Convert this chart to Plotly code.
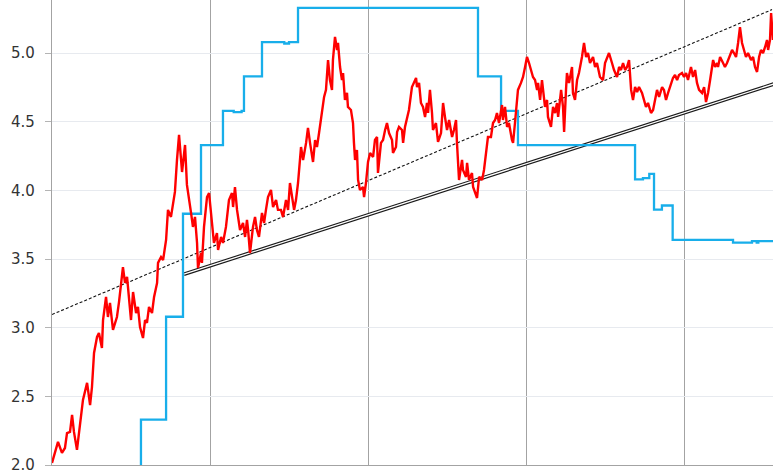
import plotly.graph_objects as go

# Red series (decimal year, value)
red_t = [2022.000, 2022.019, 2022.038, 2022.063, 2022.082, 2022.095, 2022.114, 2022.127, 2022.139, 2022.158,
         2022.171, 2022.190, 2022.196, 2022.222, 2022.241, 2022.253, 2022.266, 2022.285, 2022.297, 2022.316,
         2022.323, 2022.342, 2022.354, 2022.367, 2022.386, 2022.411, 2022.424, 2022.449, 2022.462, 2022.475,
         2022.500, 2022.513, 2022.532, 2022.544, 2022.557, 2022.576, 2022.589, 2022.601, 2022.614, 2022.633,
         2022.646, 2022.665, 2022.671, 2022.690, 2022.703, 2022.722, 2022.734, 2022.753, 2022.766, 2022.778,
         2022.791, 2022.804, 2022.823, 2022.829, 2022.842, 2022.854, 2022.867, 2022.880, 2022.892, 2022.905,
         2022.918, 2022.924, 2022.943, 2022.949, 2022.962, 2022.981, 2022.994,
         2023.013, 2023.025, 2023.044, 2023.051, 2023.070, 2023.082, 2023.101, 2023.120, 2023.139, 2023.146,
         2023.158, 2023.171, 2023.190, 2023.209, 2023.222, 2023.234, 2023.241, 2023.253, 2023.272, 2023.285,
         2023.297, 2023.310, 2023.329, 2023.342, 2023.354, 2023.367, 2023.386, 2023.399, 2023.418, 2023.430,
         2023.449, 2023.462, 2023.481, 2023.494, 2023.506, 2023.519, 2023.532, 2023.544, 2023.557, 2023.576,
         2023.589, 2023.608, 2023.620, 2023.633, 2023.652, 2023.665, 2023.677, 2023.690, 2023.709, 2023.722,
         2023.734, 2023.747, 2023.759, 2023.772, 2023.778, 2023.791, 2023.804, 2023.810, 2023.823, 2023.835,
         2023.842, 2023.854, 2023.867, 2023.873, 2023.892, 2023.905, 2023.911, 2023.918, 2023.930, 2023.937,
         2023.949, 2023.968, 2023.975, 2023.987, 2024.000,
         2024.013, 2024.032, 2024.044, 2024.057, 2024.063, 2024.082, 2024.095, 2024.108, 2024.120, 2024.133,
         2024.152, 2024.158, 2024.177, 2024.184, 2024.196, 2024.215, 2024.222, 2024.234, 2024.247, 2024.259,
         2024.278, 2024.291, 2024.304, 2024.310, 2024.323, 2024.335, 2024.348, 2024.361, 2024.373, 2024.380,
         2024.392, 2024.405, 2024.411, 2024.430, 2024.443, 2024.462, 2024.475, 2024.487, 2024.500, 2024.513,
         2024.532, 2024.544, 2024.557, 2024.563, 2024.576, 2024.595, 2024.601, 2024.620, 2024.627, 2024.639,
         2024.658, 2024.665, 2024.677, 2024.690, 2024.703, 2024.722, 2024.734, 2024.747, 2024.759, 2024.778,
         2024.791, 2024.804, 2024.816, 2024.829, 2024.848, 2024.854, 2024.867, 2024.880, 2024.892, 2024.911,
         2024.918, 2024.930, 2024.943, 2024.949, 2024.968, 2024.981, 2024.994,
         2025.006, 2025.019, 2025.032, 2025.044, 2025.057, 2025.070, 2025.076, 2025.089, 2025.101, 2025.108,
         2025.120, 2025.133, 2025.139, 2025.158, 2025.171, 2025.184, 2025.196, 2025.203, 2025.222, 2025.234,
         2025.241, 2025.253, 2025.259, 2025.272, 2025.291, 2025.297, 2025.310, 2025.323, 2025.335, 2025.354,
         2025.367, 2025.380, 2025.392, 2025.405, 2025.424, 2025.437, 2025.449, 2025.468, 2025.487, 2025.500,
         2025.513, 2025.525, 2025.544, 2025.557, 2025.576, 2025.589, 2025.601, 2025.614, 2025.627, 2025.639,
         2025.652, 2025.665, 2025.677, 2025.690, 2025.703, 2025.715, 2025.734, 2025.747, 2025.759, 2025.772,
         2025.791, 2025.804, 2025.816, 2025.829, 2025.842, 2025.861, 2025.873, 2025.886, 2025.899, 2025.918,
         2025.930, 2025.943, 2025.956, 2025.968, 2025.987,
         2026.000, 2026.013, 2026.025, 2026.044, 2026.057, 2026.070, 2026.082, 2026.095, 2026.114, 2026.127,
         2026.139, 2026.152, 2026.165, 2026.177, 2026.184, 2026.196, 2026.209, 2026.215, 2026.228, 2026.247,
         2026.259, 2026.272, 2026.285, 2026.304, 2026.316, 2026.329, 2026.342, 2026.354, 2026.367, 2026.380,
         2026.392, 2026.405, 2026.424, 2026.437, 2026.449, 2026.462, 2026.475, 2026.487, 2026.500, 2026.513,
         2026.525, 2026.532, 2026.544, 2026.551, 2026.563]
red_v = [2.015, 2.095, 2.168, 2.088, 2.124, 2.233, 2.241, 2.365, 2.241, 2.110,
         2.233, 2.379, 2.474, 2.598, 2.437, 2.568, 2.816, 2.933, 2.962, 2.853,
         3.056, 3.224, 3.078, 3.180, 2.984, 3.078, 3.187, 3.442, 3.326, 3.370,
         3.056, 3.260, 3.107, 3.151, 3.005, 2.925, 3.056, 3.035, 3.151, 3.107,
         3.224, 3.326, 3.472, 3.515, 3.493, 3.639, 3.858, 3.807, 3.909, 3.989,
         4.222, 4.404, 4.134, 4.185, 4.331, 4.040, 3.916, 3.836, 3.734, 3.807,
         3.617, 3.435, 3.544, 3.472, 3.734, 3.952, 3.981,
         3.734, 3.617, 3.690, 3.566, 3.661, 3.617, 3.734, 3.930, 3.981, 3.879,
         4.025, 3.858, 3.712, 3.763, 3.661, 3.785, 3.712, 3.544, 3.734, 3.807,
         3.712, 3.661, 3.836, 3.763, 3.858, 3.952, 4.003, 3.879, 3.930, 3.858,
         3.858, 3.807, 3.930, 3.858, 4.054, 3.952, 3.858, 3.930, 4.054, 4.316,
         4.222, 4.346, 4.455, 4.346, 4.207, 4.367, 4.316, 4.418, 4.564, 4.681,
         4.732, 4.950, 4.804, 4.732, 4.950, 5.118, 5.023, 5.074, 4.899, 4.804,
         4.855, 4.659, 4.710, 4.608, 4.586, 4.491, 4.346, 4.222, 4.295, 4.076,
         4.003, 4.025, 3.952, 4.054, 4.207,
         4.273, 4.244, 4.367, 4.389, 4.127, 4.346, 4.367, 4.440, 4.491, 4.418,
         4.367, 4.273, 4.316, 4.426, 4.462, 4.440, 4.346, 4.462, 4.535, 4.586,
         4.753, 4.783, 4.819, 4.753, 4.783, 4.637, 4.608, 4.535, 4.637, 4.564,
         4.732, 4.564, 4.440, 4.491, 4.353, 4.418, 4.637, 4.535, 4.440, 4.513,
         4.389, 4.440, 4.513, 4.346, 4.076, 4.222, 4.149, 4.098, 4.200, 4.076,
         4.127, 4.025, 3.981, 3.945, 4.098, 4.076, 4.149, 4.273, 4.389, 4.389,
         4.491, 4.513, 4.564, 4.491, 4.622, 4.513, 4.608, 4.462, 4.491, 4.367,
         4.346, 4.491, 4.659, 4.732, 4.783, 4.826, 4.899,
         4.972, 4.928, 4.877, 4.826, 4.804, 4.732, 4.783, 4.659, 4.804, 4.710,
         4.608, 4.659, 4.535, 4.462, 4.608, 4.564, 4.637, 4.535, 4.732, 4.608,
         4.426, 4.732, 4.855, 4.783, 4.899, 4.710, 4.659, 4.804, 4.855, 4.972,
         5.074, 4.972, 5.001, 4.928, 4.972, 4.899, 4.928, 4.826, 4.804, 4.928,
         4.972, 5.001, 4.928, 4.877, 4.826, 4.899, 4.877, 4.928, 4.877, 4.899,
         4.950, 4.732, 4.659, 4.753, 4.717, 4.753, 4.710, 4.659, 4.608, 4.637,
         4.564, 4.586, 4.659, 4.732, 4.681, 4.753, 4.732, 4.659, 4.710, 4.783,
         4.819, 4.841, 4.804, 4.841, 4.855,
         4.826, 4.855, 4.804, 4.899, 4.826, 4.877, 4.783, 4.732, 4.710, 4.753,
         4.644, 4.710, 4.804, 4.899, 4.950, 4.899, 4.928, 4.899, 4.972, 4.928,
         4.899, 4.928, 4.972, 5.023, 5.001, 4.972, 5.074, 5.190, 5.074, 5.023,
         4.972, 5.001, 4.950, 4.972, 4.899, 4.863, 4.972, 5.023, 5.001, 5.045,
         5.096, 5.023, 5.096, 5.292, 5.096]

# Blue step series (decimal year, value)
blue_t = [2022.460, 2022.563, 2022.722, 2022.829, 2022.943, 2023.082, 2023.150, 2023.200, 2023.215, 2023.329,
          2023.470, 2023.500, 2023.557, 2024.696, 2024.842, 2024.949, 2025.690, 2025.740, 2025.780, 2025.810,
          2025.860, 2025.928, 2026.310, 2026.430, 2026.460, 2026.470, 2026.563]
blue_v = [1.58, 2.33, 3.08, 3.83, 4.33, 4.58, 4.57, 4.58, 4.83, 5.08,
          5.07, 5.08, 5.33, 4.83, 4.58, 4.33, 4.08, 4.09, 4.12, 3.86,
          3.89, 3.64, 3.62, 3.63, 3.62, 3.63, 3.63]

# Trend lines (decimal year, value)
dashed_t = [2022.000, 2026.557]
dashed_v = [3.096, 5.317]
double_t = [2022.835, 2026.608]
double_v = [3.39, 4.79]

fig = go.Figure()
fig.add_trace(go.Scatter(x=double_t, y=double_v, mode="lines",
                         line=dict(color="#1a1a1a", width=3.6), hoverinfo="skip"))
fig.add_trace(go.Scatter(x=double_t, y=double_v, mode="lines",
                         line=dict(color="#ffffff", width=1.3), hoverinfo="skip"))
fig.add_trace(go.Scatter(x=dashed_t, y=dashed_v, mode="lines",
                         line=dict(color="#111111", width=1.1, dash="3px,2px")))
fig.add_trace(go.Scatter(x=blue_t, y=blue_v, mode="lines",
                         line=dict(color="#18aeea", width=2.3, shape="hv")))
fig.add_trace(go.Scatter(x=red_t, y=red_v, mode="lines",
                         line=dict(color="#ff0000", width=2.4)))

fig.update_layout(
    width=780, height=470,
    margin=dict(l=52, r=7, t=0, b=5, autoexpand=False),
    paper_bgcolor="white", plot_bgcolor="white",
    showlegend=False,
    font=dict(family="DejaVu Sans", size=15, color="#333333"),
)
fig.update_xaxes(range=[2022.0, 2026.563], tick0=2022, dtick=1,
                 showgrid=True, gridcolor="#a3a3a3", gridwidth=1.4,
                 showticklabels=False, ticks="", zeroline=False,
                 showline=True, linecolor="#a3a3a3", linewidth=1.4)
fig.update_yaxes(range=[2.0, 5.387], tick0=2.0, dtick=0.5, tickformat=".1f",
                 showgrid=True, gridcolor="#e7eaef", gridwidth=1.3,
                 ticks="outside", ticklen=6, tickcolor="#b4b4b4", tickwidth=1.2,
                 ticklabelstandoff=7, ticklabeloverflow="allow",
                 zeroline=False, automargin=False,
                 showline=True, linecolor="#a3a3a3", linewidth=1.4)

fig.write_html("out.html", config={"displayModeBar": False},
               post_script="document.body.style.margin='0';")
